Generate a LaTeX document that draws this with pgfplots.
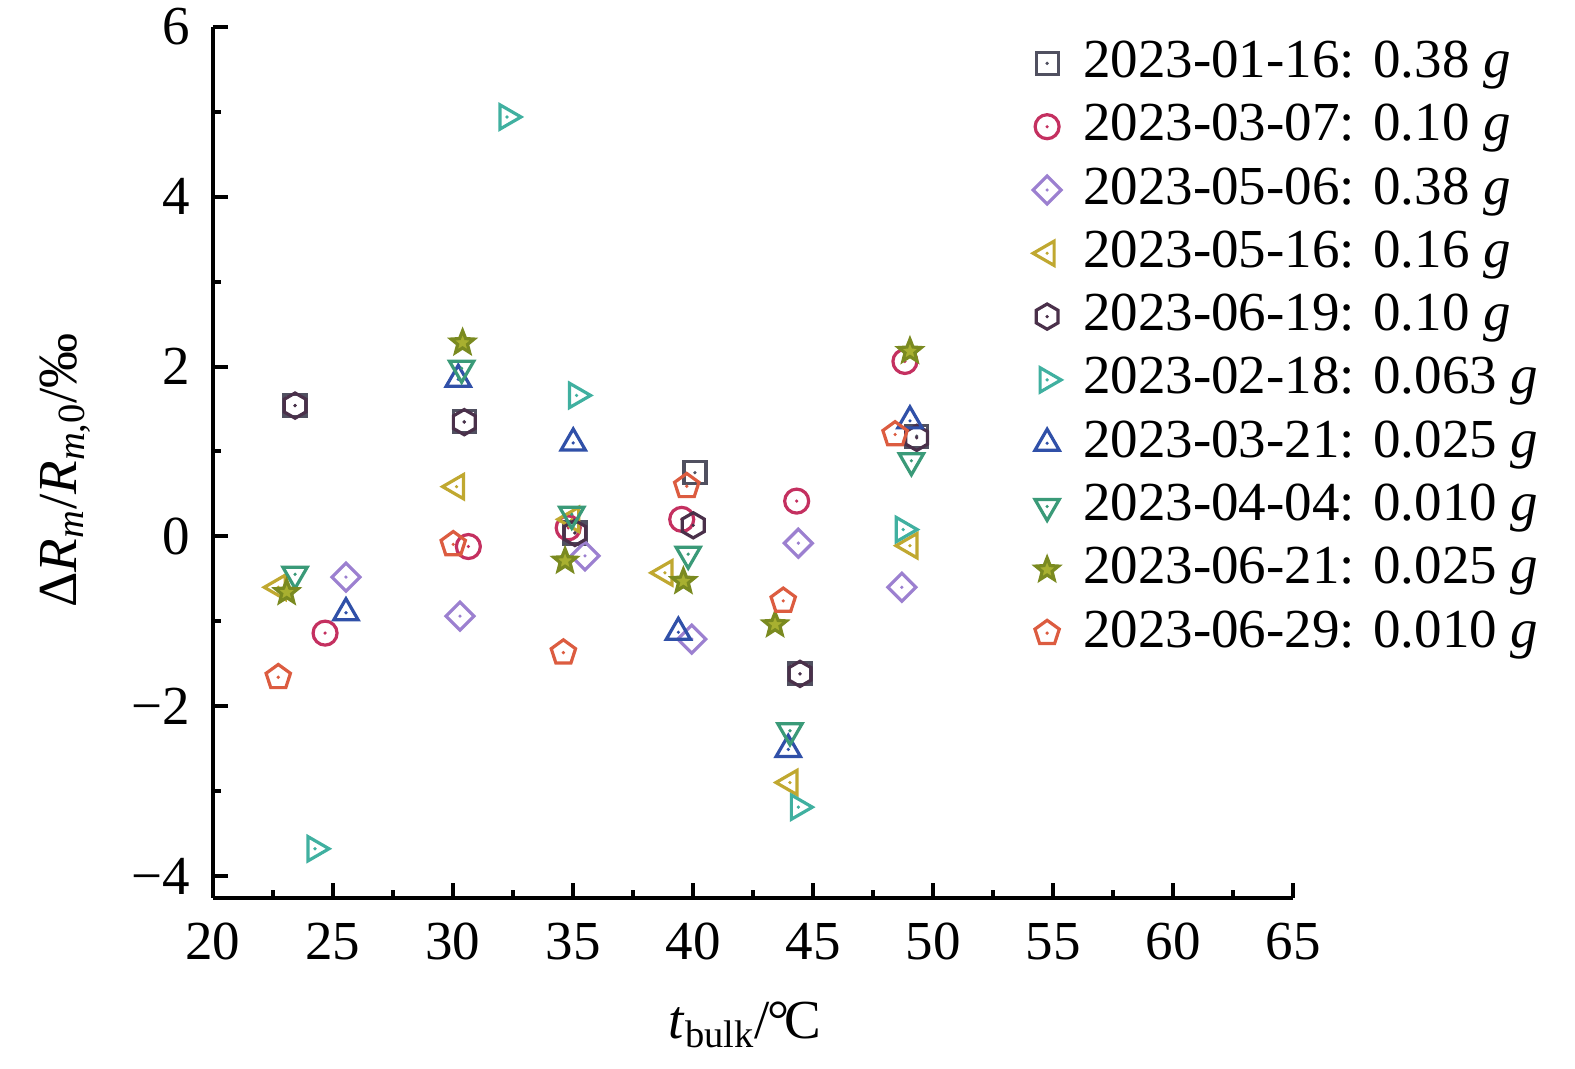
\documentclass[border=0pt]{standalone}
\usepackage{fontspec}
\setmainfont{Liberation Serif}
\usepackage{pgfplots}
\pgfplotsset{compat=1.18}

\definecolor{cA}{RGB}{80,80,96}
\definecolor{cB}{RGB}{196,48,96}
\definecolor{cC}{RGB}{156,128,208}
\definecolor{cD}{RGB}{192,168,48}
\definecolor{cE}{RGB}{74,48,74}
\definecolor{cF}{RGB}{64,176,160}
\definecolor{cG}{RGB}{48,80,168}
\definecolor{cH}{RGB}{58,154,120}
\definecolor{cI}{RGB}{122,138,32}
\definecolor{cIf}{RGB}{168,176,48}
\definecolor{cJ}{RGB}{220,92,64}

\def\mdot{\pgfpathcircle{\pgfpointorigin}{0.9pt}\pgfusepathqfill}
\pgfdeclareplotmark{msq}{\pgfpathrectangle{\pgfqpoint{-5.5pt}{-5.5pt}}{\pgfqpoint{11pt}{11pt}}\pgfusepathqstroke\mdot}
\pgfdeclareplotmark{mci}{\pgfpathcircle{\pgfpointorigin}{6pt}\pgfusepathqstroke\mdot}
\pgfdeclareplotmark{mdi}{\pgfpathmoveto{\pgfpointpolar{0}{7pt}}\pgfpathlineto{\pgfpointpolar{90}{7pt}}\pgfpathlineto{\pgfpointpolar{180}{7pt}}\pgfpathlineto{\pgfpointpolar{270}{7pt}}\pgfpathclose\pgfusepathqstroke\mdot}
\pgfdeclareplotmark{mtl}{\pgfpathmoveto{\pgfpointpolar{180}{7pt}}\pgfpathlineto{\pgfpointpolar{300}{7pt}}\pgfpathlineto{\pgfpointpolar{60}{7pt}}\pgfpathclose\pgfusepathqstroke\mdot}
\pgfdeclareplotmark{mtr}{\pgfpathmoveto{\pgfpointpolar{0}{7pt}}\pgfpathlineto{\pgfpointpolar{120}{7pt}}\pgfpathlineto{\pgfpointpolar{240}{7pt}}\pgfpathclose\pgfusepathqstroke\mdot}
\pgfdeclareplotmark{mtu}{\pgfpathmoveto{\pgfpointpolar{90}{7pt}}\pgfpathlineto{\pgfpointpolar{210}{7pt}}\pgfpathlineto{\pgfpointpolar{330}{7pt}}\pgfpathclose\pgfusepathqstroke\mdot}
\pgfdeclareplotmark{mtd}{\pgfpathmoveto{\pgfpointpolar{270}{7pt}}\pgfpathlineto{\pgfpointpolar{30}{7pt}}\pgfpathlineto{\pgfpointpolar{150}{7pt}}\pgfpathclose\pgfusepathqstroke\mdot}
\pgfdeclareplotmark{mhx}{\pgfpathmoveto{\pgfpointpolar{90}{6.3pt}}\pgfpathlineto{\pgfpointpolar{150}{6.3pt}}\pgfpathlineto{\pgfpointpolar{210}{6.3pt}}\pgfpathlineto{\pgfpointpolar{270}{6.3pt}}\pgfpathlineto{\pgfpointpolar{330}{6.3pt}}\pgfpathlineto{\pgfpointpolar{30}{6.3pt}}\pgfpathclose\pgfusepathqstroke\mdot}
\pgfdeclareplotmark{mpe}{\pgfpathmoveto{\pgfpointpolar{90}{6.4pt}}\pgfpathlineto{\pgfpointpolar{162}{6.4pt}}\pgfpathlineto{\pgfpointpolar{234}{6.4pt}}\pgfpathlineto{\pgfpointpolar{306}{6.4pt}}\pgfpathlineto{\pgfpointpolar{18}{6.4pt}}\pgfpathclose\pgfusepathqstroke\mdot}
\pgfdeclareplotmark{mst}{\pgfpathmoveto{\pgfpointpolar{90}{6pt}}\pgfpathlineto{\pgfpointpolar{126}{2.6pt}}\pgfpathlineto{\pgfpointpolar{162}{6pt}}\pgfpathlineto{\pgfpointpolar{198}{2.6pt}}\pgfpathlineto{\pgfpointpolar{234}{6pt}}\pgfpathlineto{\pgfpointpolar{270}{2.6pt}}\pgfpathlineto{\pgfpointpolar{306}{6pt}}\pgfpathlineto{\pgfpointpolar{342}{2.6pt}}\pgfpathlineto{\pgfpointpolar{18}{6pt}}\pgfpathlineto{\pgfpointpolar{54}{2.6pt}}\pgfpathclose\pgfusepathqfillstroke}

\begin{document}
\begin{tikzpicture}
\path[use as bounding box] (-106.5pt,-85.5pt) rectangle (681pt,449pt);
\begin{axis}[
  scale only axis, width=540pt, height=435.5pt,
  xmin=20, xmax=65, ymin=-4.26, ymax=6,
  axis x line*=bottom, axis y line*=left,
  axis line style={line width=2.2pt, black},
  tick align=inside,
  major tick length=7.5pt, minor tick length=4pt,
  every tick/.style={line width=2pt, black},
  xtick={20,25,...,65}, xticklabels={20,25,30,35,40,45,50,55,60,65},
  ytick={-4,-2,0,2,4,6}, yticklabels={−4,−2,0,2,4,6},
  minor tick num=1,
  tick label style={font=\fontsize{27.5}{32}\selectfont},
  yticklabel style={inner sep=0pt, xshift=-11.5pt},
  xticklabel style={inner sep=0pt, yshift=-12.5pt},
  label style={font=\fontsize{27.5}{32}\selectfont},
  xlabel={\textit{t}\textsubscript{bulk}/\kern-0.05em°\kern-0.08em C},
  ylabel={Δ\textit{R}\textsubscript{\textit{m}}/\textit{R}\textsubscript{\textit{m},0}/‰},
  xlabel style={at={(axis description cs:0.4926,-0.1458)}, anchor=center},
  ylabel style={at={(axis description cs:-0.137,0.491)}, anchor=center},
  clip=false,
  legend image code/.code={\draw[#1, only marks] plot coordinates {(0pt,0pt)};},
  legend style={draw=none, fill=none, at={(0.759,0.9885)}, anchor=north west,
    inner sep=0pt, row sep=5.65pt, column sep=11pt,
    font=\fontsize{27.5}{32}\selectfont,
    nodes={inner sep=0pt, text height=20pt, text depth=6pt}},
  legend cell align=left,
  every axis plot/.append style={only marks, line width=1.6pt},
]
\addplot[cA, mark=msq] coordinates {(23.42,1.54)(30.47,1.35)(35.08,0.04)(40.08,0.75)(44.46,-1.62)(49.32,1.18)};
\addlegendentry{2023-01-16: 0.38 \textit{g}}
\addplot[cB, mark=mci] coordinates {(24.67,-1.14)(30.64,-0.12)(34.8,0.1)(39.53,0.2)(44.32,0.415)(48.83,2.06)};
\addlegendentry{2023-03-07: 0.10 \textit{g}}
\addplot[cC, mark=mdi] coordinates {(25.54,-0.48)(30.29,-0.94)(35.5,-0.23)(39.95,-1.21)(44.39,-0.08)(48.7,-0.60)};
\addlegendentry{2023-05-06: 0.38 \textit{g}}
\addplot[cD, mark=mtl] coordinates {(22.72,-0.60)(30.15,0.585)(34.95,0.2)(38.83,-0.43)(44.04,-2.90)(49.04,-0.11)};
\addlegendentry{2023-05-16: 0.16 \textit{g}}
\addplot[cE, mark=mhx] coordinates {(23.42,1.54)(30.47,1.345)(35.08,0.04)(40.01,0.13)(44.46,-1.62)(49.32,1.16)};
\addlegendentry{2023-06-19: 0.10 \textit{g}}
\addplot[cF, mark=mtr] coordinates {(24.25,-3.68)(32.25,4.94)(35.15,1.66)(44.39,-3.19)(48.76,0.08)};
\addlegendentry{2023-02-18: 0.063 \textit{g}}
\addplot[cG, mark=mtu] coordinates {(25.54,-0.90)(30.22,1.85)(35.01,1.10)(39.39,-1.13)(43.97,-2.51)(49.04,1.36)};
\addlegendentry{2023-03-21: 0.025 \textit{g}}
\addplot[cH, mark=mtd] coordinates {(23.42,-0.447)(30.36,1.98)(34.95,0.26)(39.8,-0.21)(44.04,-2.29)(49.1,0.89)};
\addlegendentry{2023-04-04: 0.010 \textit{g}}
\addplot[cI, fill=cIf, mark=mst] coordinates {(23.07,-0.66)(30.40,2.28)(34.67,-0.29)(39.6,-0.53)(43.42,-1.04)(49.04,2.18)};
\addlegendentry{2023-06-21: 0.025 \textit{g}}
\addplot[cJ, mark=mpe] coordinates {(22.72,-1.66)(30.01,-0.094)(34.6,-1.37)(39.74,0.59)(43.76,-0.76)(48.42,1.2)};
\addlegendentry{2023-06-29: 0.010 \textit{g}}
\end{axis}
\end{tikzpicture}
\end{document}
